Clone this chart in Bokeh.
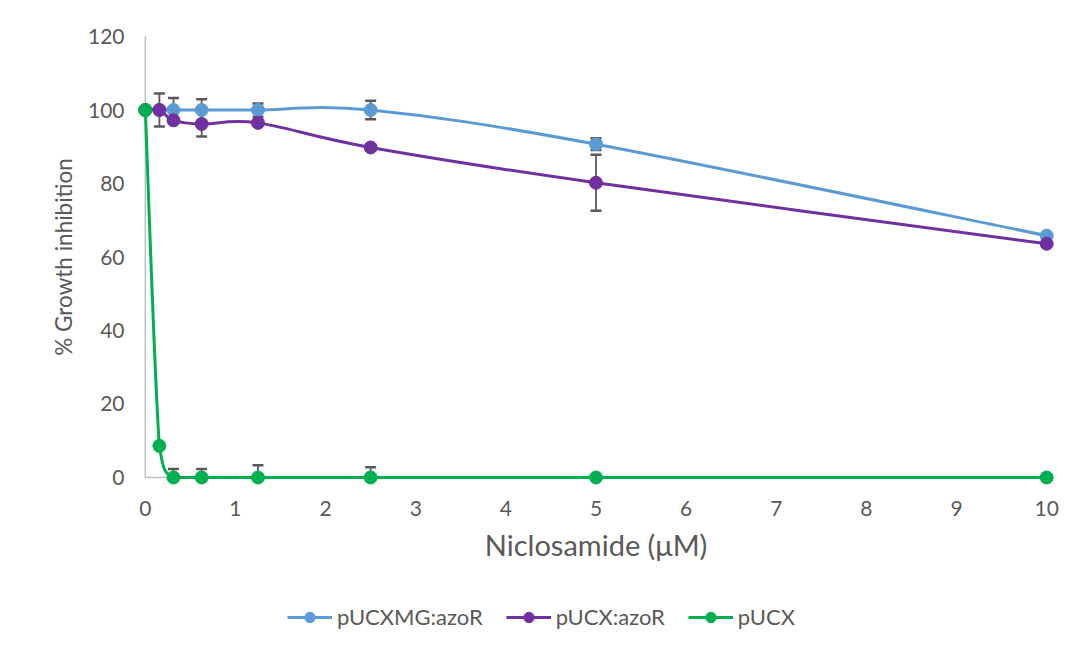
from bokeh.plotting import figure
from bokeh.layouts import column
from bokeh.models import (ColumnDataSource, Whisker, TeeHead, Legend, LegendItem,
                          FixedTicker, Range1d)
from bokeh.embed import file_html
from bokeh.resources import INLINE

# ---- data ----
x_vals = [0, 0.15625, 0.3125, 0.625, 1.25, 2.5, 5, 10]
series_names = ["pUCXMG:azoR", "pUCX:azoR", "pUCX"]
blue_vals = [100, 100, 100, 100, 100, 100, 90.7, 65.8]
blue_err = [0, 0, 3.3, 2.9, 1.8, 2.5, 1.6, 0.5]
purple_vals = [100, 100, 97.2, 96.2, 96.5, 89.8, 80.2, 63.6]
purple_err = [0, 4.5, 0, 3.4, 0.8, 0.8, 7.6, 0.5]
green_vals = [100, 8.6, 0, 0, 0, 0, 0, 0]
green_err = [0, 0, 2.3, 2.3, 3.3, 2.8, 0, 0]
x_ticks = [0, 1, 2, 3, 4, 5, 6, 7, 8, 9, 10]
y_ticks = [0, 20, 40, 60, 80, 100, 120]
x_title = "Niclosamide (μM)"
y_title = "% Growth inhibition"

colors = ["#5B9BD5", "#7030A0", "#00B050"]
FONT = "Lato"
TXT = "#595959"

p = figure(width=1068, height=580,
           x_range=Range1d(-0.12, 10.12), y_range=Range1d(-3, 123),
           output_backend="svg", toolbar_location=None,
           min_border_left=134, min_border_right=11,
           min_border_top=25, min_border_bottom=92)
p.grid.visible = False
p.outline_line_color = None

for ax, ticks, standoff in ((p.xaxis[0], x_ticks, 6), (p.yaxis[0], y_ticks, 4)):
    ax.ticker = FixedTicker(ticks=ticks)
    ax.axis_line_color = None
    ax.major_tick_line_color = None
    ax.minor_tick_line_color = None
    ax.major_label_standoff = standoff
    ax.major_label_text_font = FONT
    ax.major_label_text_font_size = "21px"
    ax.major_label_text_color = TXT
    ax.axis_label_text_font = FONT
    ax.axis_label_text_font_style = "normal"
    ax.axis_label_text_color = TXT

p.xaxis.axis_label = x_title
p.yaxis.axis_label = y_title
p.xaxis.axis_label_text_font_size = "29px"
p.yaxis.axis_label_text_font_size = "22.5px"
p.xaxis.axis_label_standoff = 8
p.yaxis.axis_label_standoff = 8

# axis lines at the data origin
p.segment(x0=[x_ticks[0]], y0=[y_ticks[0]], x1=[x_ticks[-1]], y1=[y_ticks[0]],
          line_color="#BFBFBF", line_width=1.5)
p.segment(x0=[x_ticks[0]], y0=[y_ticks[0]], x1=[x_ticks[0]], y1=[y_ticks[-1]],
          line_color="#BFBFBF", line_width=1.5)

YLO, YHI = y_ticks[0], y_ticks[-1]


def smooth(xs, ys):
    n = len(xs)
    d = dict(x0=[], y0=[], x1=[], y1=[], cx0=[], cy0=[], cx1=[], cy1=[])
    for i in range(n - 1):
        a = i - 1 if i > 0 else i
        b = i + 2 if i + 2 < n else i + 1
        d["x0"].append(xs[i]); d["y0"].append(ys[i])
        d["x1"].append(xs[i + 1]); d["y1"].append(ys[i + 1])
        d["cx0"].append(xs[i] + (xs[i + 1] - xs[a]) / 6)
        d["cy0"].append(min(max(ys[i] + (ys[i + 1] - ys[a]) / 6, YLO), YHI))
        d["cx1"].append(xs[i + 1] - (xs[b] - xs[i]) / 6)
        d["cy1"].append(min(max(ys[i + 1] - (ys[b] - ys[i]) / 6, YLO), YHI))
    return ColumnDataSource(d)


# legend lives in a small figure placed under the chart (its ranges keep the
# legend's own series out of view, so only the legend keys are drawn)
lf = figure(width=1068, height=82, x_range=Range1d(0, 1), y_range=Range1d(-20, -10),
            output_backend="svg", toolbar_location=None,
            x_axis_type=None, y_axis_type=None, min_border=0)
lf.grid.visible = False
lf.outline_line_color = None

items = []
for name, vals, errs, col, low in ((series_names[0], blue_vals, blue_err, colors[0], True),
                                   (series_names[1], purple_vals, purple_err, colors[1], True),
                                   (series_names[2], green_vals, green_err, colors[2], False)):
    ex = [x for x, e in zip(x_vals, errs) if e > 0]
    eu = [v + e for v, e in zip(vals, errs) if e > 0]
    el = [v - e if low else v for v, e in zip(vals, errs) if e > 0]
    esrc = ColumnDataSource(dict(x=ex, upper=eu, lower=el))
    w = Whisker(base="x", upper="upper", lower="lower", source=esrc, dimension="height",
                line_color="#595959", line_width=1.8,
                upper_head=TeeHead(size=11, line_color="#595959", line_width=2.5),
                lower_head=TeeHead(size=11, line_color="#595959", line_width=2.5) if low else None)
    p.add_layout(w)
    p.bezier(x0="x0", y0="y0", x1="x1", y1="y1", cx0="cx0", cy0="cy0",
             cx1="cx1", cy1="cy1", source=smooth(x_vals, vals),
             line_color=col, line_width=3)
    p.scatter(x=x_vals, y=vals, size=13, marker="circle",
              fill_color=col, line_color=col)
    kl = lf.line(x=x_vals, y=vals, line_color=col, line_width=3)
    ks = lf.scatter(x=x_vals, y=vals, size=13, marker="circle", fill_color=col, line_color=col)
    items.append(LegendItem(label=name, renderers=[kl, ks]))

legend = Legend(items=items, orientation="horizontal", location=(153, 32),
                border_line_color=None, background_fill_alpha=0,
                glyph_width=45, glyph_height=26, label_standoff=5, spacing=23,
                padding=0, margin=0,
                label_text_font=FONT, label_text_font_size="22px",
                label_text_color=TXT)
lf.add_layout(legend, "center")

layout = column(p, lf, spacing=0)
open("out.html", "w").write(file_html(layout, INLINE))
